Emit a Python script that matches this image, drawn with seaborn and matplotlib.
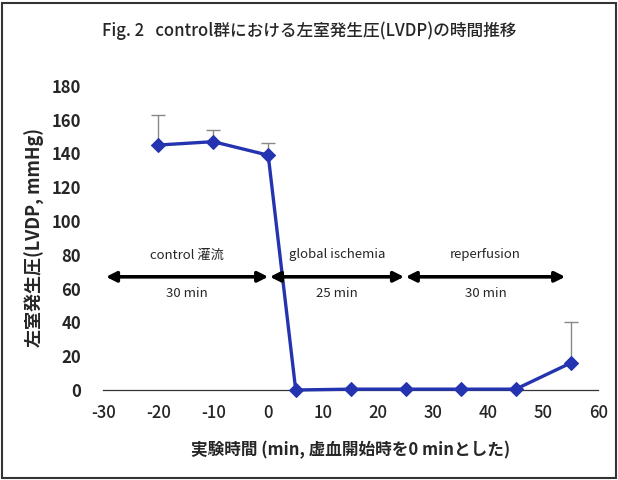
import matplotlib
matplotlib.use("Agg")
import matplotlib.pyplot as plt
import seaborn as sns
import pandas as pd
from matplotlib.patches import Rectangle

# Data
time_min = [-20, -10, 0, 5, 15, 25, 35, 45, 55]
lvdp = [145, 147, 139, 0, 0.5, 0.5, 0.5, 0.5, 16]
sd_up = [18, 7, 7, 0, 0, 0, 0, 0, 24]

phase_names = ["control 灌流", "global ischemia", "reperfusion"]
phase_durations = ["30 min", "25 min", "30 min"]
phase_start = [-29.5, 0.3, 25]
phase_end = [0, 24.7, 54]

xticks = [-30, -20, -10, 0, 10, 20, 30, 40, 50, 60]
yticks = [0, 20, 40, 60, 80, 100, 120, 140, 160, 180]

sns.set_theme(style="white")
plt.rcParams['font.family'] = ['Noto Sans CJK JP', 'DejaVu Sans']

df = pd.DataFrame({"time": time_min, "lvdp": lvdp})

fig = plt.figure(figsize=(6.18, 4.8), dpi=100)
ax = fig.add_axes([0.167, 0.1875, 0.801, 0.6335])

line_color = "#2434b0"
ax.errorbar(time_min, lvdp, yerr=[[0]*len(sd_up), sd_up], fmt="none",
            ecolor="#888888", elinewidth=1, capsize=5, capthick=1, zorder=2)
sns.lineplot(data=df, x="time", y="lvdp", ax=ax, color=line_color,
             linewidth=2.4, marker="D", markersize=7, markeredgecolor=line_color,
             zorder=3, clip_on=False)

for s, e, name, dur in zip(phase_start, phase_end, phase_names, phase_durations):
    ax.annotate("", xy=(s, 67), xytext=(e, 67),
                arrowprops=dict(arrowstyle="<|-|>,head_length=0.5,head_width=0.25",
                                color="black", lw=2.6,
                                mutation_scale=12, shrinkA=0, shrinkB=0))
    mid = (s + e) / 2
    ax.text(mid, 80, name, ha="center", va="center", fontsize=9.5)
    ax.text(mid, 57, dur, ha="center", va="center", fontsize=9.5)

ax.set_xlim(-30, 60)
ax.set_ylim(0, 180)
ax.set_xticks(xticks)
ax.set_yticks(yticks)
ax.set_xticklabels([str(t) for t in xticks], fontsize=12, fontweight="medium")
ax.set_yticklabels([str(t) for t in yticks], fontsize=12, fontweight="bold")

for side in ["left", "right", "top"]:
    ax.spines[side].set_visible(False)
ax.spines["bottom"].set_color("#333333")
ax.spines["bottom"].set_linewidth(0.9)
ax.tick_params(axis="x", direction="in", length=4, width=0.8, color="#333333", pad=10)
ax.tick_params(axis="y", length=0, pad=16)

ax.set_xlabel("実験時間 (min, 虚血開始時を0 minとした)", fontsize=12, fontweight="bold", labelpad=14)
ax.set_ylabel("左室発生圧(LVDP, mmHg)", fontsize=13, fontweight="bold", labelpad=5)

fig.text(0.5, 0.937, "Fig. 2   control群における左室発生圧(LVDP)の時間推移",
         ha="center", va="center", fontsize=12, fontweight="medium")

fig.patches.append(Rectangle((0.003, 0.004), 0.994, 0.99, transform=fig.transFigure,
                             fill=False, edgecolor="#333333", linewidth=1.5))

fig.savefig("out.png", dpi=100)
